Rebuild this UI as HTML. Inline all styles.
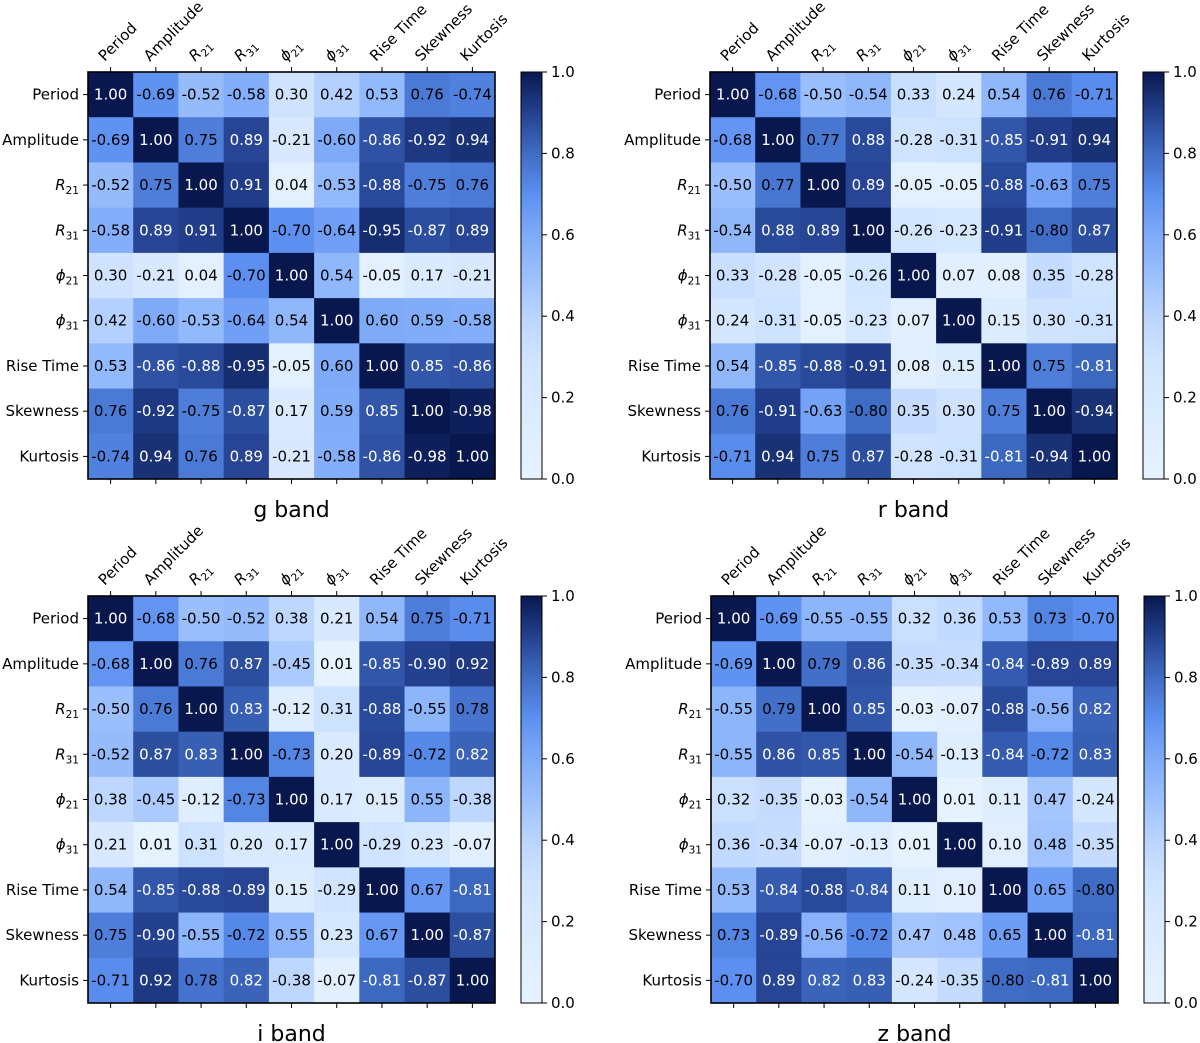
<!DOCTYPE html>
<html><head><meta charset="utf-8"><style>
body{margin:0;background:#fff;}
svg{display:block;font-family:"DejaVu Sans","Liberation Sans",sans-serif;}
</style></head><body>
<svg id="fig" width="1200" height="1043" viewBox="0 0 1200 1043"></svg>
<script>
const labels = ["Period","Amplitude","R21","R31","phi21","phi31","Rise Time","Skewness","Kurtosis"];
const bands = ["g band","r band","i band","z band"];
const gVals = [
[1.00,-0.69,-0.52,-0.58,0.30,0.42,0.53,0.76,-0.74],
[-0.69,1.00,0.75,0.89,-0.21,-0.60,-0.86,-0.92,0.94],
[-0.52,0.75,1.00,0.91,0.04,-0.53,-0.88,-0.75,0.76],
[-0.58,0.89,0.91,1.00,-0.70,-0.64,-0.95,-0.87,0.89],
[0.30,-0.21,0.04,-0.70,1.00,0.54,-0.05,0.17,-0.21],
[0.42,-0.60,-0.53,-0.64,0.54,1.00,0.60,0.59,-0.58],
[0.53,-0.86,-0.88,-0.95,-0.05,0.60,1.00,0.85,-0.86],
[0.76,-0.92,-0.75,-0.87,0.17,0.59,0.85,1.00,-0.98],
[-0.74,0.94,0.76,0.89,-0.21,-0.58,-0.86,-0.98,1.00]];
const rVals = [
[1.00,-0.68,-0.50,-0.54,0.33,0.24,0.54,0.76,-0.71],
[-0.68,1.00,0.77,0.88,-0.28,-0.31,-0.85,-0.91,0.94],
[-0.50,0.77,1.00,0.89,-0.05,-0.05,-0.88,-0.63,0.75],
[-0.54,0.88,0.89,1.00,-0.26,-0.23,-0.91,-0.80,0.87],
[0.33,-0.28,-0.05,-0.26,1.00,0.07,0.08,0.35,-0.28],
[0.24,-0.31,-0.05,-0.23,0.07,1.00,0.15,0.30,-0.31],
[0.54,-0.85,-0.88,-0.91,0.08,0.15,1.00,0.75,-0.81],
[0.76,-0.91,-0.63,-0.80,0.35,0.30,0.75,1.00,-0.94],
[-0.71,0.94,0.75,0.87,-0.28,-0.31,-0.81,-0.94,1.00]];
const iVals = [
[1.00,-0.68,-0.50,-0.52,0.38,0.21,0.54,0.75,-0.71],
[-0.68,1.00,0.76,0.87,-0.45,0.01,-0.85,-0.90,0.92],
[-0.50,0.76,1.00,0.83,-0.12,0.31,-0.88,-0.55,0.78],
[-0.52,0.87,0.83,1.00,-0.73,0.20,-0.89,-0.72,0.82],
[0.38,-0.45,-0.12,-0.73,1.00,0.17,0.15,0.55,-0.38],
[0.21,0.01,0.31,0.20,0.17,1.00,-0.29,0.23,-0.07],
[0.54,-0.85,-0.88,-0.89,0.15,-0.29,1.00,0.67,-0.81],
[0.75,-0.90,-0.55,-0.72,0.55,0.23,0.67,1.00,-0.87],
[-0.71,0.92,0.78,0.82,-0.38,-0.07,-0.81,-0.87,1.00]];
const zVals = [
[1.00,-0.69,-0.55,-0.55,0.32,0.36,0.53,0.73,-0.70],
[-0.69,1.00,0.79,0.86,-0.35,-0.34,-0.84,-0.89,0.89],
[-0.55,0.79,1.00,0.85,-0.03,-0.07,-0.88,-0.56,0.82],
[-0.55,0.86,0.85,1.00,-0.54,-0.13,-0.84,-0.72,0.83],
[0.32,-0.35,-0.03,-0.54,1.00,0.01,0.11,0.47,-0.24],
[0.36,-0.34,-0.07,-0.13,0.01,1.00,0.10,0.48,-0.35],
[0.53,-0.84,-0.88,-0.84,0.11,0.10,1.00,0.65,-0.80],
[0.73,-0.89,-0.56,-0.72,0.47,0.48,0.65,1.00,-0.81],
[-0.70,0.89,0.82,0.83,-0.24,-0.35,-0.80,-0.81,1.00]];
const cbTicks = [0.0,0.2,0.4,0.6,0.8,1.0];

const NS="http://www.w3.org/2000/svg";
const svg=document.getElementById('fig');
const stops=[[0,[230,242,255]],[0.2,[217,234,255]],[0.3,[207,227,255]],[0.4,[186,212,255]],[0.5,[155,191,252]],[0.6,[126,170,248]],[0.7,[92,143,240]],[0.8,[63,108,196]],[0.9,[36,65,143]],[1,[8,24,79]]];
function cmap(v){v=Math.max(0,Math.min(1,v));for(let k=1;k<stops.length;k++){if(v<=stops[k][0]){const a=stops[k-1],b=stops[k];const t=(v-a[0])/(b[0]-a[0]);const c=a[1].map((x,j)=>Math.round(x+(b[1][j]-x)*t));return `rgb(${c})`;}}return 'rgb(8,24,79)';}
function el(tag,attrs,parent){const e=document.createElementNS(NS,tag);for(const k in attrs)e.setAttribute(k,attrs[k]);(parent||svg).appendChild(e);return e;}
function labelContent(t,lab){
  const m=lab.match(/^(R|phi)(\d+)$/);
  if(m){
    const a=el('tspan',{'font-style':'italic'},t);a.textContent=m[1]==='R'?'R':'ϕ';
    const b=el('tspan',{'font-size':'0.7em','dy':'4'},t);b.textContent=m[2];
  } else t.textContent=lab;
}
const panels=[{vals:gVals,x:88,y:72},{vals:rVals,x:710,y:72},{vals:iVals,x:88,y:596},{vals:zVals,x:711,y:596}];
const W=407,N=labels.length,cs=W/N;
function xs(j,p){return p.x+j*cs;}
function ys(i,p){return p.y+i*cs;}
panels.forEach((p,pi)=>{
  const g=el('g',{});
  
  
  for(let i=0;i<N;i++)for(let j=0;j<N;j++){
    const v=p.vals[i][j];
    const r=el('rect',{x:xs(j,p),y:ys(i,p),width:cs+0.5,height:cs+0.5,fill:cmap(Math.abs(v))},g);
    
    
    const t=el('text',{x:xs(j,p)+cs/2,y:ys(i,p)+cs/2+5,'text-anchor':'middle','font-size':'15',fill:Math.abs(v)>0.805?'#fff':'#000'},g);
    
    
    t.textContent=v.toFixed(2);
  }
  el('rect',{x:p.x,y:p.y,width:W,height:W,fill:'none',stroke:'#000','stroke-width':1.6},g);
  for(let k=0;k<N;k++){
    const cx=xs(k,p)+cs/2, cy=ys(k,p)+cs/2;
    el('line',{x1:cx,x2:cx,y1:p.y,y2:p.y-5,stroke:'#000'},g);
    el('line',{x1:cx,x2:cx,y1:p.y+W,y2:p.y+W+5,stroke:'#000'},g);
    el('line',{x1:p.x,x2:p.x-5,y1:cy,y2:cy,stroke:'#000'},g);
    const tx=el('text',{transform:`translate(${cx-6},${p.y-10}) rotate(-45)`,'font-size':'15'},g);
    
    
    labelContent(tx,labels[k]);
    const ty=el('text',{x:p.x-9,y:cy+5,'text-anchor':'end','font-size':'15'},g);
    
    
    labelContent(ty,labels[k]);
  }
  const title=el('text',{x:p.x+W/2,y:p.y+W+38,'text-anchor':'middle','font-size':'22'},g);
  
  
  title.textContent=bands[pi];
  const cbx=p.x+W+26, cbw=21;
  const gid='grad'+pi;
  const defs=el('defs',{},g);
  const lg=el('linearGradient',{id:gid,x1:0,y1:1,x2:0,y2:0},defs);
  for(let s=0;s<=20;s++){el('stop',{offset:s/20,'stop-color':cmap(s/20)},lg);}
  const cb=el('rect',{x:cbx,y:p.y,width:cbw,height:W,fill:`url(#${gid})`,stroke:'#000','stroke-width':1},g);
  
  
  cbTicks.forEach(tv=>{
    const yy=p.y+W-tv*W;
    el('line',{x1:cbx+cbw,x2:cbx+cbw+5,y1:yy,y2:yy,stroke:'#000'},g);
    const t=el('text',{x:cbx+cbw+9,y:yy+5,'font-size':'15'},g);
    
    
    t.textContent=tv.toFixed(1);
  });
});
</script>
</body></html>
